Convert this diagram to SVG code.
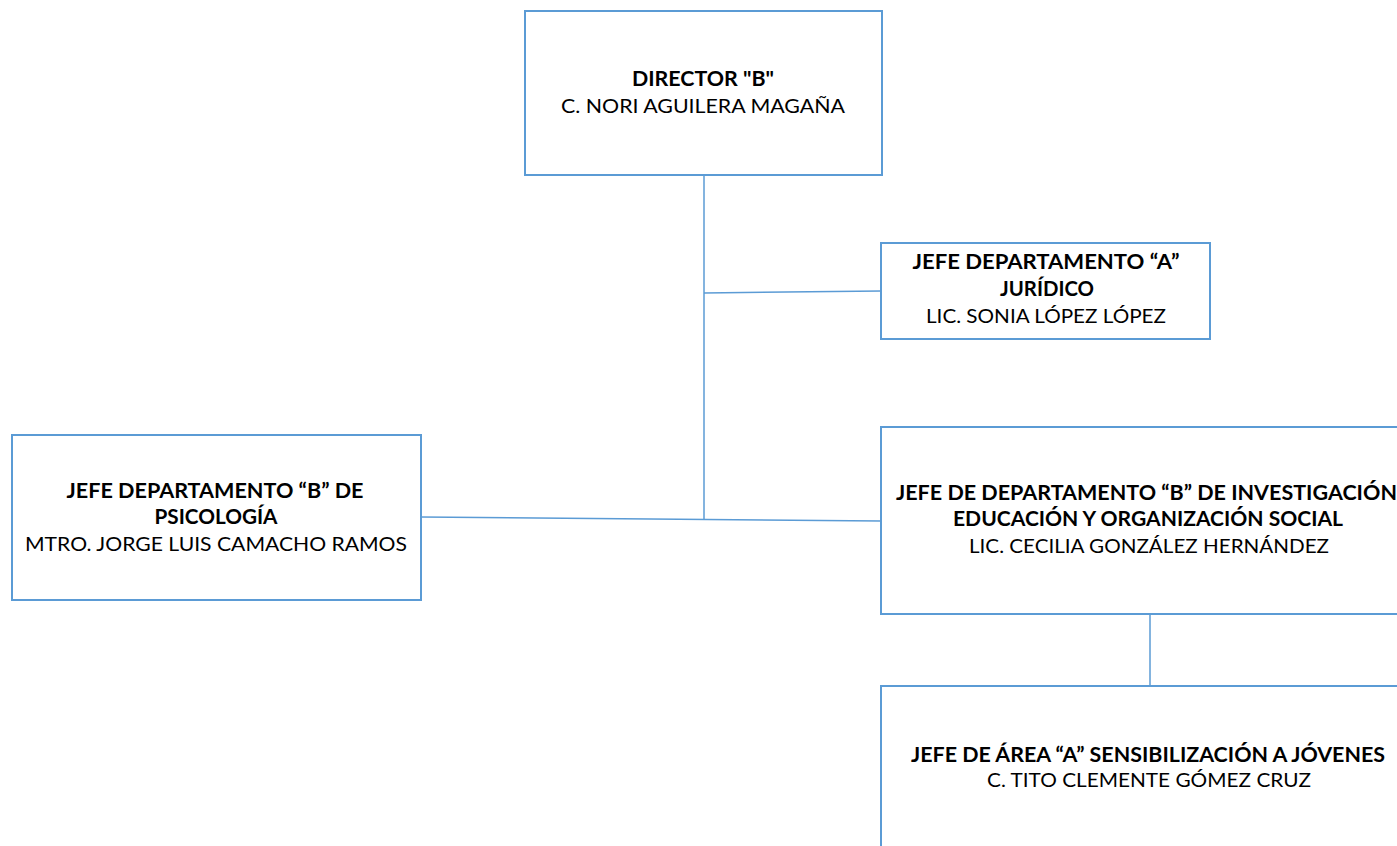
<svg xmlns="http://www.w3.org/2000/svg" width="1397" height="846" viewBox="0 0 1397 846">
<style>
.box{fill:#ffffff;stroke:#5B9BD5;stroke-width:2}
.con{stroke:#5B9BD5;stroke-width:1.5;fill:none}
text{font-family:Lato,"Liberation Sans",sans-serif;font-size:20px;fill:#000000;text-anchor:middle}
.b{font-weight:bold}
</style>
<rect width="1397" height="846" fill="#ffffff"/>
<g id="connectors">
<line class="con" x1="704" y1="175" x2="704" y2="520"/>
<line class="con" x1="704" y1="293" x2="881" y2="291"/>
<line class="con" x1="421" y1="517" x2="881" y2="521"/>
<line class="con" x1="1150" y1="614" x2="1150" y2="686"/>
</g>
<g id="director">
<rect class="box" x="525" y="11" width="357" height="164"/>
<text class="b" x="703" y="86" textLength="142" lengthAdjust="spacingAndGlyphs">DIRECTOR "B"</text>
<text x="703" y="113" textLength="284" lengthAdjust="spacingAndGlyphs">C. NORI AGUILERA MAGAÑA</text>
</g>
<g id="juridico">
<rect class="box" x="881" y="243" width="329" height="96"/>
<text class="b" x="1046" y="269" textLength="267" lengthAdjust="spacingAndGlyphs">JEFE DEPARTAMENTO “A”</text>
<text class="b" x="1047" y="296" textLength="94" lengthAdjust="spacingAndGlyphs">JURÍDICO</text>
<text x="1046" y="323" textLength="240" lengthAdjust="spacingAndGlyphs">LIC. SONIA LÓPEZ LÓPEZ</text>
</g>
<g id="psicologia">
<rect class="box" x="12" y="435" width="409" height="165"/>
<text class="b" x="215" y="498" textLength="297" lengthAdjust="spacingAndGlyphs">JEFE DEPARTAMENTO “B” DE</text>
<text class="b" x="216" y="524" textLength="123" lengthAdjust="spacingAndGlyphs">PSICOLOGÍA</text>
<text x="216" y="551" textLength="382" lengthAdjust="spacingAndGlyphs">MTRO. JORGE LUIS CAMACHO RAMOS</text>
</g>
<g id="investigacion">
<rect class="box" x="881" y="427" width="538" height="187"/>
<text class="b" x="1149" y="500" textLength="506" lengthAdjust="spacingAndGlyphs">JEFE DE DEPARTAMENTO “B” DE INVESTIGACIÓN,</text>
<text class="b" x="1148" y="526" textLength="390" lengthAdjust="spacingAndGlyphs">EDUCACIÓN Y ORGANIZACIÓN SOCIAL</text>
<text x="1149" y="553" textLength="360" lengthAdjust="spacingAndGlyphs">LIC. CECILIA GONZÁLEZ HERNÁNDEZ</text>
</g>
<g id="area">
<rect class="box" x="881" y="686" width="538" height="200"/>
<text class="b" x="1148" y="762" textLength="474" lengthAdjust="spacingAndGlyphs">JEFE DE ÁREA “A” SENSIBILIZACIÓN A JÓVENES</text>
<text x="1149" y="787" textLength="324" lengthAdjust="spacingAndGlyphs">C. TITO CLEMENTE GÓMEZ CRUZ</text>
</g>
</svg>
